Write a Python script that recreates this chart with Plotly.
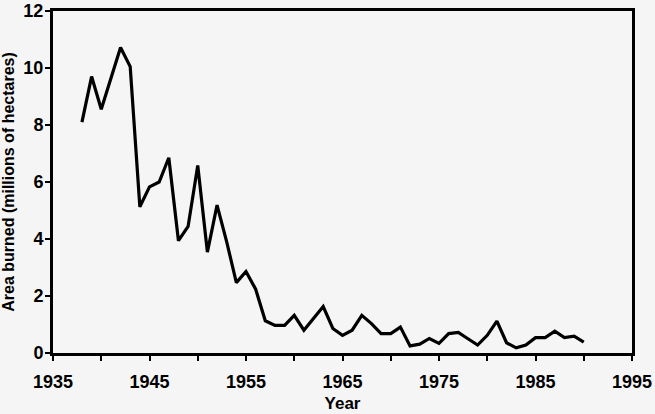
import plotly.graph_objects as go

# area burned per year (millions of hectares)
years = list(range(1938, 1991))
area_burned = [
    8.1, 9.7, 8.55, 9.6, 10.72, 10.05, 5.13, 5.83, 6.0, 6.85,
    3.94, 4.44, 6.58, 3.54, 5.19, 3.9, 2.47, 2.86, 2.24, 1.13,
    0.97, 0.97, 1.32, 0.8, 1.2, 1.63, 0.86, 0.62, 0.8, 1.32,
    1.03, 0.68, 0.68, 0.91, 0.25, 0.31, 0.51, 0.34, 0.68, 0.72,
    0.5, 0.28, 0.62, 1.12, 0.36, 0.18, 0.28, 0.54, 0.54, 0.77,
    0.54, 0.59, 0.38,
]

x_tick_vals = list(range(1935, 2000, 5))
x_tick_text = ['<b>%d</b>' % v if (v - 1935) % 10 == 0 else '' for v in x_tick_vals]
y_tick_vals = [0, 2, 4, 6, 8, 10, 12]
y_tick_text = ['<b>%d</b>' % v for v in y_tick_vals]

bg = '#f5f5f5'
font = dict(family='Liberation Sans, Arial', size=16, color='black')

fig = go.Figure()
fig.add_trace(go.Scatter(x=years, y=area_burned, mode='lines',
                         line=dict(color='black', width=3.2)))

fig.update_layout(
    width=655, height=414,
    margin=dict(l=53, r=23, t=11, b=61),
    paper_bgcolor=bg, plot_bgcolor=bg,
    showlegend=False,
    font=font,
)
fig.update_xaxes(
    range=[1935, 1995], tickvals=x_tick_vals, ticktext=x_tick_text,
    showgrid=False, zeroline=False, automargin=False,
    showline=True, linecolor='black', linewidth=3, mirror=True,
    ticks='outside', ticklen=5, tickwidth=2, tickcolor='black',
    tickfont=dict(size=18), ticklabelstandoff=5, ticklabeloverflow='allow',
    title=dict(text='<b>Year</b>', font=dict(size=17), standoff=7),
)
fig.update_yaxes(
    range=[0, 12], tickvals=y_tick_vals, ticktext=y_tick_text,
    showgrid=False, zeroline=False, automargin=False,
    showline=True, linecolor='black', linewidth=3, mirror=True,
    ticks='outside', ticklen=5, tickwidth=2, tickcolor='black',
    tickfont=dict(size=18), ticklabelstandoff=-2, ticklabeloverflow='allow',
    title=dict(text='<b>Area burned (millions of hectares)</b>',
               font=dict(size=16), standoff=7),
)

# drop the default page margin so the chart sits at the window corner
fig.write_html('out.html', config={'displayModeBar': False},
               post_script="document.body.style.margin='0';")
